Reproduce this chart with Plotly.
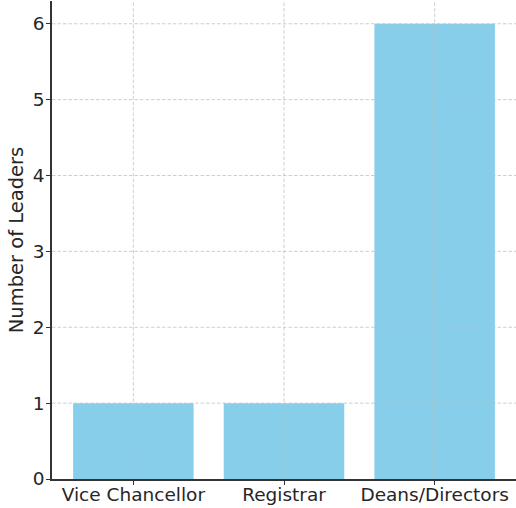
import plotly.graph_objects as go

categories = ["Vice Chancellor", "Registrar", "Deans/Directors"]
values = [1, 1, 6]
y_ticks = [0, 1, 2, 3, 4, 5, 6]

fig = go.Figure(go.Bar(x=categories, y=values, marker=dict(color="#87CEEB", line=dict(width=0)), width=0.8))

axis_common = dict(
    showgrid=False,
    showline=True, linecolor="#333333", linewidth=1.5,
    ticks="outside", ticklen=4, tickwidth=1.2, tickcolor="#333333",
    tickfont=dict(family="DejaVu Sans", size=18.5, color="#262626"),
    layer="above traces", zeroline=False,
)

grid_style = dict(color="rgba(190,190,190,0.75)", width=1, dash="3.5px,2px")
shapes = []
for v in y_ticks[1:]:
    shapes.append(dict(type="line", xref="paper", x0=0, x1=1, yref="y", y0=v, y1=v,
                       line=grid_style, layer="above"))
for c in categories:
    shapes.append(dict(type="line", xref="x", x0=c, x1=c, yref="paper", y0=0, y1=1,
                       line=grid_style, layer="above"))

fig.update_layout(
    width=516, height=508,
    margin=dict(l=52, r=0, t=1, b=29),
    paper_bgcolor="white", plot_bgcolor="white",
    showlegend=False,
    shapes=shapes,
    xaxis=dict(range=[-0.54, 2.54], ticklabelstandoff=-6, **axis_common),
    yaxis=dict(range=[0, 6.3], tickvals=y_ticks, ticklabelstandoff=-2,
               title=dict(text="Number of Leaders", font=dict(family="DejaVu Sans", size=19.5, color="#262626"), standoff=4),
               **axis_common),
)

fig.write_html("out.html", config={"displayModeBar": False},
               post_script="document.body.style.margin='0';document.body.style.overflow='hidden';")
